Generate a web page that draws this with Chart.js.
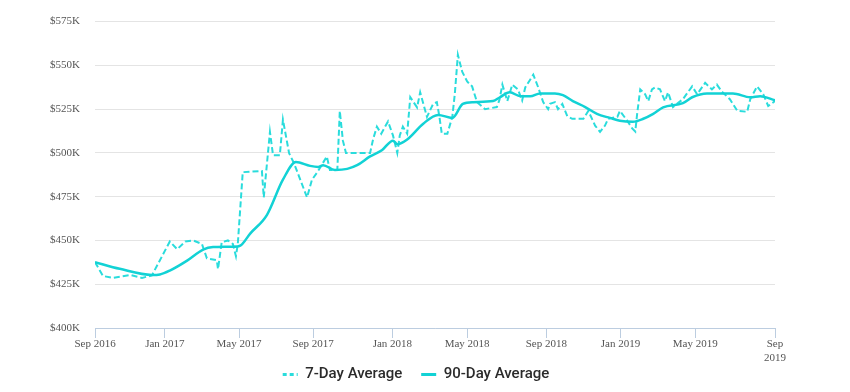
<!DOCTYPE html>
<html lang="en">
<head>
    <meta charset="UTF-8" />
    <title>Median Sale Price</title>
    <script src="https://cdn.jsdelivr.net/npm/chart.js@4"></script>
    <style>
        html, body { margin: 0; padding: 0; background: #fff; }
        #priceChart { display: block; }
    </style>
</head>
<body>
    <canvas id="priceChart" width="850" height="392"></canvas>

    <script>
        // x values are days counted from Sep 1, 2016; prices in $K
        const days7 = [0, 13, 29, 57, 76, 92, 121, 133, 146, 159, 173, 181, 197, 199, 205, 215, 223, 228, 231, 239,
            270, 273, 283, 288, 299, 304, 314, 322, 343, 351, 361, 375, 380, 392, 396, 401, 406, 429, 445, 450,
            456, 463, 474, 482, 489, 493, 498, 505, 510, 521, 526, 537, 547, 553, 557, 561, 570, 578, 582, 587,
            594, 602, 610, 618, 631, 650, 654, 659, 667, 675, 684, 691, 696, 709, 717, 725, 733, 736, 744, 749,
            756, 764, 772, 790, 798, 809, 817, 825, 830, 845, 849, 861, 869, 874, 877, 882, 890, 895, 901, 906,
            914, 922, 927, 935, 951, 966, 974, 987, 998, 1006, 1014, 1027, 1039, 1055, 1060, 1071, 1081, 1089, 1100];
        const values7 = [437.6, 429.7, 428.6, 430.3, 428.6, 430, 449.4, 445, 449.4, 450, 448, 439.8, 438.7, 433.7, 449, 450, 448, 441, 448, 489,
            489.7, 474.6, 512, 498.7, 498.7, 519, 499.8, 494, 474.6, 484.7, 489.7, 498, 490.3, 490.3, 524, 507, 500, 500, 500, 508,
            515, 511, 518, 510, 500, 510, 515, 511, 531.8, 526, 534.6, 520.6, 528, 529, 521, 511, 511, 520.6, 533.5, 556,
            546.4, 540.8, 538, 529, 525, 526.2, 530, 539, 529.6, 539, 536.3, 530, 537.4, 544.7, 537.4, 529, 525, 528, 529, 525,
            528, 521, 519.5, 519.5, 524, 515.6, 512, 515.6, 519.5, 520.6, 524, 518.4, 514, 512.2, 522.3, 536.3, 533.5, 529.6, 536.3, 537.4,
            536.3, 529.6, 534.6, 526.2, 530.7, 538, 533.5, 540, 536.3, 539, 535, 530.7, 524, 523.5, 530.7, 538, 533.5, 526.8, 529.6];

        const days90 = [0, 40, 92, 105, 121, 149, 175, 191, 230, 236, 251, 278, 304, 325, 348, 361, 369, 388, 408, 424,
            445, 464, 482, 489, 505, 531, 555, 578, 595, 612, 644, 655, 671, 688, 704, 720, 744, 757, 773, 793,
            812, 833, 849, 870, 887, 903, 919, 951, 966, 990, 1032, 1060, 1076, 1100];
        const values90 = [437.6, 433.8, 430.3, 430.6, 432.8, 438.5, 444.8, 446.2, 446.6, 447.2, 453.9, 464.5, 484.7, 494.8, 492.6, 492, 493, 490.3, 490.9, 493,
            498, 501.5, 507, 505, 507.7, 516.7, 521.7, 520, 528, 529, 529.6, 531.8, 534.6, 532.4, 532.4, 534, 534, 533, 529.6, 526.2,
            522.3, 520, 518.4, 517.8, 519.5, 522.3, 526, 528.4, 531.8, 534, 534, 531.8, 532.4, 530];

        const tickDays = [0, 113, 233, 353, 481, 602, 730, 850, 971, 1100];
        const tickLabels = ['Sep 2016', 'Jan 2017', 'May 2017', 'Sep 2017', 'Jan 2018', 'May 2018',
            'Sep 2018', 'Jan 2019', 'May 2019', ['Sep', '2019']];

        const seriesNames = ['7-Day Average', '90-Day Average'];

        const teal = '#12d2d5';
        const axisFont = { family: 'Liberation Serif', size: 11 };

        const toPoints = (xs, ys) => xs.map((d, i) => ({ x: d, y: ys[i] }));

        new Chart(document.getElementById('priceChart'), {
            type: 'line',
            data: {
                datasets: [
                    {
                        label: seriesNames[0],
                        data: toPoints(days7, values7),
                        borderColor: '#2adcdc',
                        backgroundColor: '#2adcdc',
                        borderWidth: 2,
                        borderDash: [6, 3],
                        pointRadius: 0,
                        tension: 0,
                        order: 2
                    },
                    {
                        label: seriesNames[1],
                        data: toPoints(days90, values90),
                        borderColor: teal,
                        backgroundColor: teal,
                        borderWidth: 2.5,
                        pointRadius: 0,
                        cubicInterpolationMode: 'monotone',
                        order: 1
                    }
                ]
            },
            options: {
                responsive: false,
                animation: false,
                devicePixelRatio: 1,
                layout: { padding: { left: 44, right: 62, top: 16, bottom: 0 } },
                scales: {
                    x: {
                        type: 'linear',
                        min: 0,
                        max: 1100,
                        afterBuildTicks: scale => {
                            scale.ticks = tickDays.map(v => ({ value: v }));
                        },
                        afterFit: scale => { scale.height = 35; },
                        ticks: {
                            autoSkip: false,
                            maxRotation: 0,
                            padding: 0,
                            color: '#555',
                            font: axisFont,
                            callback: value => tickLabels[tickDays.indexOf(value)]
                        },
                        grid: {
                            drawOnChartArea: false,
                            drawTicks: true,
                            tickLength: 10,
                            color: '#bccde0'
                        },
                        border: { display: true, color: '#bccde0', width: 1 }
                    },
                    y: {
                        min: 400,
                        max: 575,
                        afterFit: scale => { scale.width = 51; },
                        ticks: {
                            stepSize: 25,
                            padding: 15,
                            color: '#555',
                            font: axisFont,
                            callback: v => '$' + v + 'K'
                        },
                        grid: { color: '#e4e4e4', drawTicks: false },
                        border: { display: false }
                    },
                    // empty spacer on the right so the plot ends where the original does
                    spacer: {
                        type: 'linear',
                        position: 'right',
                        afterFit: scale => { scale.width = 13; },
                        ticks: { display: false },
                        grid: { display: false },
                        border: { display: false }
                    }
                },
                plugins: {
                    tooltip: { enabled: false },
                    legend: {
                        position: 'bottom',
                        labels: {
                            usePointStyle: true,
                            pointStyle: 'line',
                            pointStyleWidth: 15,
                            padding: 4,
                            color: '#2b2b2b',
                            font: { family: 'Roboto', size: 15, weight: '500' },
                            generateLabels: chart => {
                                const items = Chart.defaults.plugins.legend.labels.generateLabels(chart);
                                return items
                                    .sort((a, b) => a.datasetIndex - b.datasetIndex)
                                    .map(item => ({
                                        ...item,
                                        // trailing spaces keep the gap between the two entries
                                        text: item.datasetIndex === 0 ? item.text + '    ' : item.text,
                                        lineWidth: 3,
                                        lineDash: item.datasetIndex === 0 ? [4, 3] : []
                                    }));
                            }
                        }
                    }
                }
            }
        });
    </script>
</body>
</html>
